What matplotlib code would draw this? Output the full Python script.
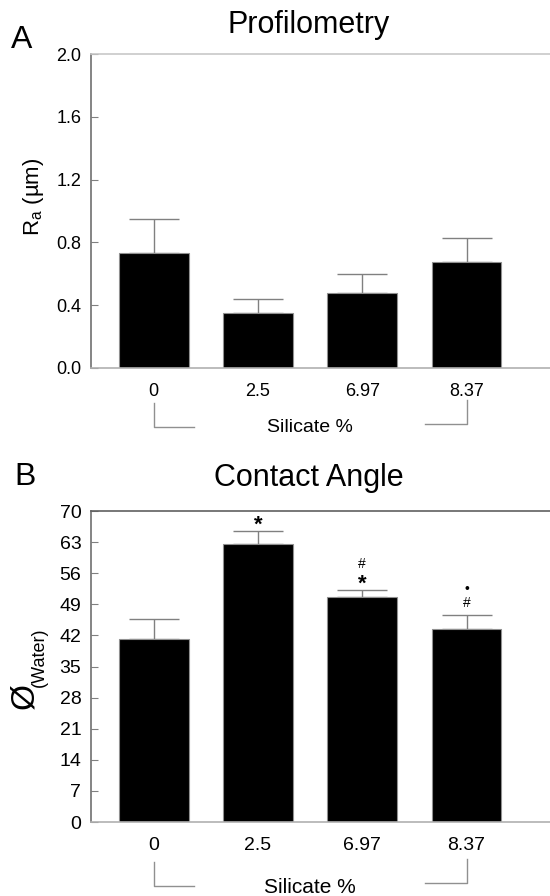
import matplotlib
matplotlib.use("Agg")
import matplotlib.pyplot as plt
from matplotlib.transforms import blended_transform_factory

plt.rcParams["font.family"] = ["Liberation Sans", "DejaVu Sans"]
plt.rcParams["mathtext.fontset"] = "custom"
plt.rcParams["mathtext.rm"] = "Liberation Sans"

silicate = ["0", "2.5", "6.97", "8.37"]

ra_mean = [0.73, 0.35, 0.48, 0.675]
ra_err = [0.22, 0.09, 0.12, 0.155]
ra_ticks = [0.0, 0.4, 0.8, 1.2, 1.6, 2.0]

angle_mean = [41.1, 62.6, 50.6, 43.4]
angle_err = [4.5, 3.0, 1.6, 3.3]
angle_ticks = list(range(0, 71, 7))
angle_marks = [[], ["*"], ["*", "#"], ["#", "•"]]  # bottom to top

W, H = 550, 896
fig = plt.figure(figsize=(W / 100, H / 100), dpi=100)


def px(x0, y0, x1, y1):
    return [x0 / W, 1 - y1 / H, (x1 - x0) / W, (y1 - y0) / H]


def bar_panel(ax, means, errs, ticks, top_color, lab_size):
    x = list(range(len(means)))
    ax.bar(x, means, width=0.67, color="black", edgecolor="#909090", linewidth=0.8, zorder=2)
    ax.errorbar(x, means, yerr=[[0] * len(errs), errs], fmt="none", ecolor="#808080",
                elinewidth=1.0, capsize=18, capthick=1.0, zorder=1)
    ax.set_xlim(-0.6, 3.8)
    ax.set_ylim(ticks[0], ticks[-1])
    ax.set_yticks(ticks)
    ax.set_xticks(x)
    ax.set_xticklabels(silicate)
    ax.tick_params(axis="y", direction="in", length=5, color="#808080", pad=7, labelsize=lab_size)
    ax.tick_params(axis="x", length=0, pad=11, labelsize=lab_size)
    ax.spines["right"].set_visible(False)
    ax.spines["left"].set_color("#707070")
    ax.spines["bottom"].set_color("#b0b0b0")
    ax.spines["top"].set_color(top_color)
    for s in ["left", "bottom", "top"]:
        ax.spines[s].set_linewidth(1.2)


axA = fig.add_axes(px(91, 54, 550, 368))
bar_panel(axA, ra_mean, ra_err, ra_ticks, "#c8c8c8", 13)
axA.set_yticklabels([f"{t:.1f}" for t in ra_ticks])

axB = fig.add_axes(px(91, 511, 550, 822))
bar_panel(axB, angle_mean, angle_err, angle_ticks, "#606060", 14)

# significance marks on panel B, stacked above the error caps
glyph_mid = {"*": 13, "#": 5, "•": 5}      # glyph centre above baseline, px
glyph_size = {"*": 16, "#": 10, "•": 10}
for i, marks in enumerate(angle_marks):
    top = angle_mean[i] + angle_err[i]
    centre = 13
    for m in marks:
        axB.annotate(m, (i, top), xytext=(0, centre - glyph_mid[m]), textcoords="offset pixels",
                     ha="center", va="baseline", fontsize=glyph_size[m],
                     fontweight="bold" if m == "*" else "normal")
        centre += 14

# bracketed x labels
for ax, y0, y1, ytxt, size in [(axA, -0.111, -0.188, -0.19, 14), (axB, -0.129, -0.206, -0.212, 15)]:
    tr = blended_transform_factory(ax.transData, ax.transAxes)
    ax.plot([0, 0, 0.39], [y0, y1, y1], color="#909090", lw=1.0, transform=tr, clip_on=False)
    ax.plot([2.6, 3.0, 3.0], [y1 + 0.01, y1 + 0.01, y0 + 0.01], color="#909090", lw=1.0,
            transform=tr, clip_on=False)
    ax.text(1.5, ytxt, "Silicate %", transform=tr, ha="center", va="center", fontsize=size)

# titles and panel letters
fig.text(309 / W, 1 - 25 / H, "Profilometry", ha="center", va="center", fontsize=22)
fig.text(309 / W, 1 - 478 / H, "Contact Angle", ha="center", va="center", fontsize=22)
fig.text(22 / W, 1 - 40 / H, "A", ha="center", va="center", fontsize=23)
fig.text(25 / W, 1 - 477 / H, "B", ha="center", va="center", fontsize=23)

# y labels
fig.text(33 / W, 1 - 197 / H, r"R$_{\mathrm{a}}$ (µm)", rotation=90, ha="center", va="center", fontsize=16)
fig.text(25 / W, 1 - 696 / H, "Ø", rotation=90, ha="center", va="center", fontsize=24)
fig.text(39 / W, 1 - 657 / H, "(Water)", rotation=90, ha="center", va="center", fontsize=13)

fig.savefig("out.png", dpi=100)
